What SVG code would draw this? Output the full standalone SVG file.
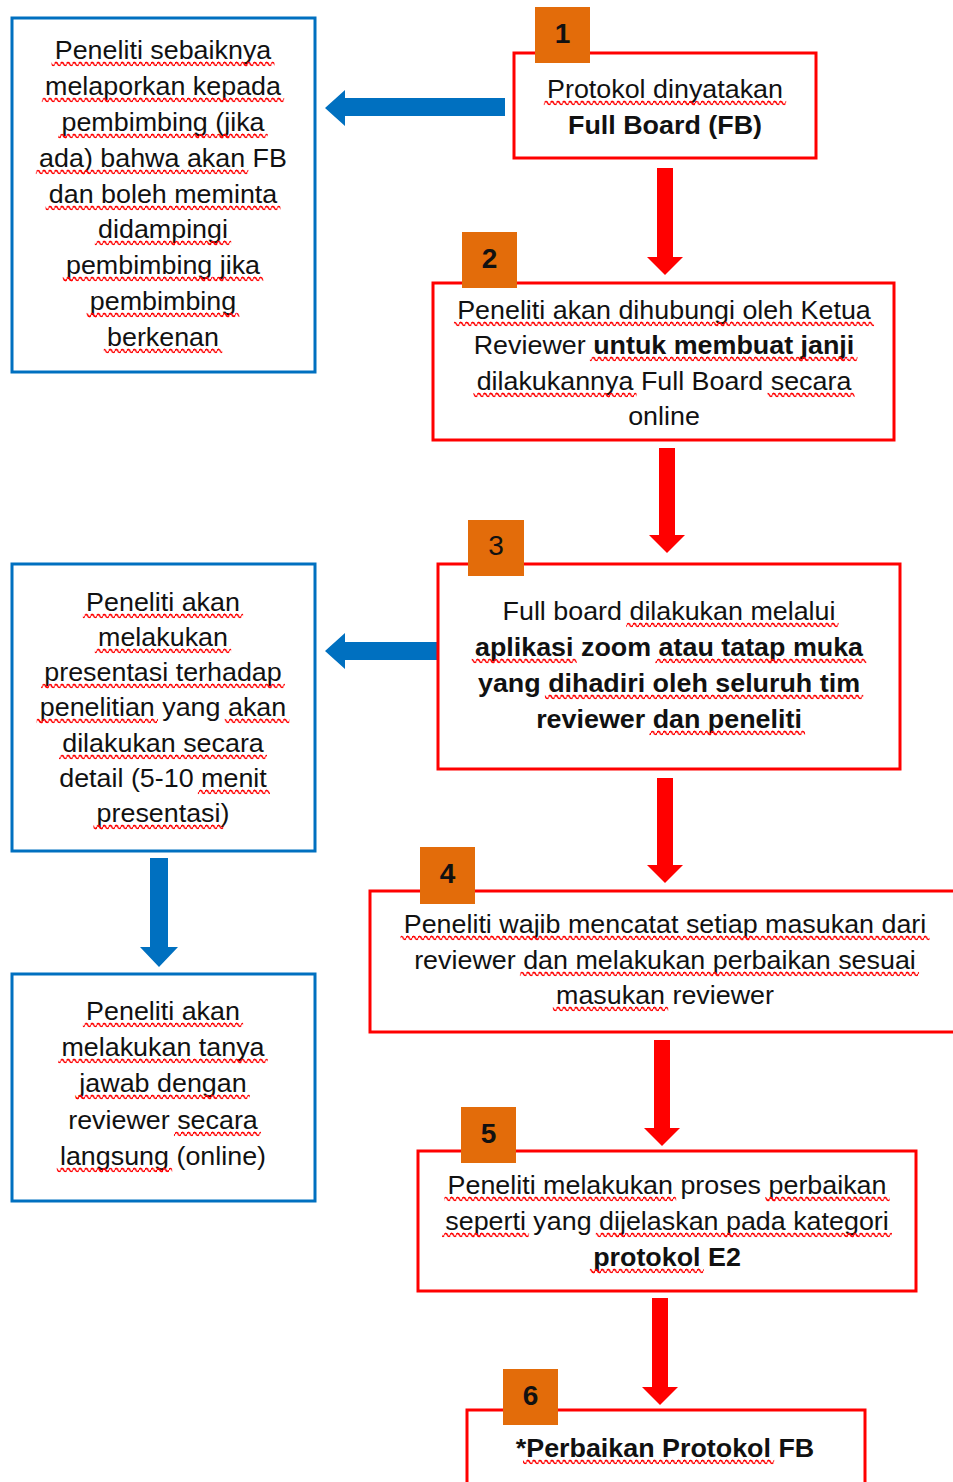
<svg xmlns="http://www.w3.org/2000/svg" xmlns:xlink="http://www.w3.org/1999/xlink" width="953" height="1482" viewBox="0 0 953 1482">
  <defs>
    <style>
      .bg { fill: #ffffff; }
      .boxR { fill: #ffffff; stroke: #ff0000; stroke-width: 3; }
      .boxB { fill: #ffffff; stroke: #0070c0; stroke-width: 3; }
      .badge { fill: #e36c0a; }
      .num { font-family: "Liberation Sans", Arial, sans-serif; font-size: 28px; font-weight: bold; fill: #111; text-anchor: middle; }
      .num.reg { font-weight: normal; }
      .t { font-family: "Liberation Sans", Arial, sans-serif; font-size: 25px; fill: var(--tf, #111); text-anchor: middle; }
      .b { font-weight: bold; }
      /* words flagged by the spell checker */
      .sp { fill: var(--sf, #111); stroke: var(--ss, none); stroke-width: var(--sw, 0); text-decoration-line: var(--dl, none); text-decoration-thickness: 7px; text-underline-offset: 1.5px; text-decoration-skip-ink: none; }
      .wv { --tf: none; --sf: url(#wave); --ss: url(#wave); --sw: 6px; --dl: underline; }
      .arrR { fill: #ff0000; }
      .arrB { fill: #0070c0; }
    </style>
    <!-- red squiggle, baseline at y=0 of each text line -->
    <pattern id="wave" patternUnits="userSpaceOnUse" x="0" y="0" width="5.6" height="40">
      <path d="M0 5 Q1.4 1.8 2.8 5 T5.6 5" fill="none" stroke="#ff0000" stroke-width="1.4"/>
    </pattern>
  </defs>
  <rect class="bg" x="0" y="0" width="953" height="1482"/>

  <!-- connectors -->
  <g id="connectors">
    <!-- step 1 -> left note -->
    <polygon class="arrB" points="505,98 345,98 345,90 325,108 345,126 345,116 505,116"/>
    <!-- step 3 -> presentation note -->
    <polygon class="arrB" points="438,642 345,642 345,633 325,651 345,669 345,660 438,660"/>
    <!-- presentation -> Q&A -->
    <polygon class="arrB" points="150,858 168,858 168,947 178,947 159,967 140,947 150,947"/>
    <!-- red flow arrows -->
    <polygon class="arrR" points="657,168 673,168 673,257 683,257 665,275 647,257 657,257"/>
    <polygon class="arrR" points="659,448 675,448 675,535 685,535 667,553 649,535 659,535"/>
    <polygon class="arrR" points="657,778 673,778 673,865 683,865 665,883 647,865 657,865"/>
    <polygon class="arrR" points="654,1040 670,1040 670,1128 680,1128 662,1146 644,1128 654,1128"/>
    <polygon class="arrR" points="652,1298 668,1298 668,1387 678,1387 660,1405 642,1387 652,1387"/>
  </g>

  <!-- left note: supervisor -->
  <g id="note-pembimbing">
    <rect class="boxB" x="12" y="18" width="303" height="354"/>
    <g id="tx-note-pembimbing">
      <text class="t" transform="translate(163 59) scale(1.075 1)"><tspan class="sp">Peneliti sebaiknya</tspan></text>
      <text class="t" transform="translate(163 95) scale(1.075 1)"><tspan class="sp">melaporkan kepada</tspan></text>
      <text class="t" transform="translate(163 131) scale(1.075 1)"><tspan class="sp">pembimbing (jika</tspan></text>
      <text class="t" transform="translate(163 167) scale(1.075 1)"><tspan class="sp">ada) bahwa akan</tspan> FB</text>
      <text class="t" transform="translate(163 203) scale(1.075 1)"><tspan class="sp">dan boleh meminta</tspan></text>
      <text class="t" transform="translate(163 238) scale(1.075 1)"><tspan class="sp">didampingi</tspan></text>
      <text class="t" transform="translate(163 274) scale(1.075 1)"><tspan class="sp">pembimbing jika</tspan></text>
      <text class="t" transform="translate(163 310) scale(1.075 1)"><tspan class="sp">pembimbing</tspan></text>
      <text class="t" transform="translate(163 346) scale(1.075 1)"><tspan class="sp">berkenan</tspan></text>
    </g>
  </g>

  <!-- step 1 -->
  <g id="step-1">
    <rect class="boxR" x="514" y="53" width="302" height="105"/>
    <rect class="badge" x="535" y="7" width="55" height="56"/>
    <text class="num" x="562.5" y="43">1</text>
    <g id="tx-step-1">
      <text class="t" transform="translate(665 98) scale(1.075 1)"><tspan class="sp">Protokol dinyatakan</tspan></text>
      <text class="t b" transform="translate(665 134) scale(1.075 1)">Full Board (FB)</text>
    </g>
  </g>

  <!-- step 2 -->
  <g id="step-2">
    <rect class="boxR" x="433" y="283" width="461" height="157"/>
    <rect class="badge" x="462" y="232" width="55" height="56"/>
    <text class="num" x="489.5" y="268">2</text>
    <g id="tx-step-2">
      <text class="t" transform="translate(664 319) scale(1.075 1)"><tspan class="sp">Peneliti akan dihubungi oleh Ketua</tspan></text>
      <text class="t" transform="translate(664 354) scale(1.075 1)">Reviewer <tspan class="sp b">untuk membuat janji</tspan></text>
      <text class="t" transform="translate(664 390) scale(1.075 1)"><tspan class="sp">dilakukannya</tspan> Full Board <tspan class="sp">secara</tspan></text>
      <text class="t" transform="translate(664 425) scale(1.075 1)">online</text>
    </g>
  </g>

  <!-- step 3 -->
  <g id="step-3">
    <rect class="boxR" x="438" y="564" width="462" height="205"/>
    <rect class="badge" x="468" y="520" width="56" height="56"/>
    <text class="num reg" x="496" y="555">3</text>
    <g id="tx-step-3">
      <text class="t" transform="translate(669 620) scale(1.075 1)">Full board <tspan class="sp">dilakukan melalui</tspan></text>
      <text class="t b" transform="translate(669 656) scale(1.075 1)"><tspan class="sp">aplikasi</tspan> zoom <tspan class="sp">atau tatap muka</tspan></text>
      <text class="t b" transform="translate(669 692) scale(1.075 1)">yang <tspan class="sp">dihadiri oleh seluruh tim</tspan></text>
      <text class="t b" transform="translate(669 728) scale(1.075 1)">reviewer <tspan class="sp">dan peneliti</tspan></text>
    </g>
  </g>

  <!-- left note: presentation -->
  <g id="note-presentasi">
    <rect class="boxB" x="12" y="564" width="303" height="287"/>
    <g id="tx-note-presentasi">
      <text class="t" transform="translate(163 611) scale(1.075 1)"><tspan class="sp">Peneliti akan</tspan></text>
      <text class="t" transform="translate(163 646) scale(1.075 1)"><tspan class="sp">melakukan</tspan></text>
      <text class="t" transform="translate(163 681) scale(1.075 1)"><tspan class="sp">presentasi terhadap</tspan></text>
      <text class="t" transform="translate(163 716) scale(1.075 1)"><tspan class="sp">penelitian</tspan> yang <tspan class="sp">akan</tspan></text>
      <text class="t" transform="translate(163 752) scale(1.075 1)"><tspan class="sp">dilakukan secara</tspan></text>
      <text class="t" transform="translate(163 787) scale(1.075 1)">detail (5-10 <tspan class="sp">menit</tspan></text>
      <text class="t" transform="translate(163 822) scale(1.075 1)"><tspan class="sp">presentasi</tspan>)</text>
    </g>
  </g>

  <!-- left note: question and answer -->
  <g id="note-tanya-jawab">
    <rect class="boxB" x="12" y="974" width="303" height="227"/>
    <g id="tx-note-tanya-jawab">
      <text class="t" transform="translate(163 1020) scale(1.075 1)"><tspan class="sp">Peneliti akan</tspan></text>
      <text class="t" transform="translate(163 1056) scale(1.075 1)"><tspan class="sp">melakukan tanya</tspan></text>
      <text class="t" transform="translate(163 1092) scale(1.075 1)"><tspan class="sp">jawab dengan</tspan></text>
      <text class="t" transform="translate(163 1129) scale(1.075 1)">reviewer <tspan class="sp">secara</tspan></text>
      <text class="t" transform="translate(163 1165) scale(1.075 1)"><tspan class="sp">langsung</tspan> (online)</text>
    </g>
  </g>

  <!-- step 4 -->
  <g id="step-4">
    <rect class="boxR" x="370" y="891" width="600" height="141"/>
    <rect class="badge" x="420" y="847" width="55" height="57"/>
    <text class="num" x="447.5" y="883">4</text>
    <g id="tx-step-4">
      <text class="t" transform="translate(665 933) scale(1.075 1)"><tspan class="sp">Peneliti wajib mencatat setiap masukan dari</tspan></text>
      <text class="t" transform="translate(665 969) scale(1.075 1)">reviewer <tspan class="sp">dan melakukan perbaikan sesuai</tspan></text>
      <text class="t" transform="translate(665 1004) scale(1.075 1)"><tspan class="sp">masukan</tspan> reviewer</text>
    </g>
  </g>

  <!-- step 5 -->
  <g id="step-5">
    <rect class="boxR" x="418" y="1151" width="498" height="140"/>
    <rect class="badge" x="461" y="1107" width="55" height="56"/>
    <text class="num" x="488.5" y="1143">5</text>
    <g id="tx-step-5">
      <text class="t" transform="translate(667 1194) scale(1.075 1)"><tspan class="sp">Peneliti melakukan</tspan> proses <tspan class="sp">perbaikan</tspan></text>
      <text class="t" transform="translate(667 1230) scale(1.075 1)"><tspan class="sp">seperti</tspan> yang <tspan class="sp">dijelaskan pada kategori</tspan></text>
      <text class="t b" transform="translate(667 1266) scale(1.075 1)"><tspan class="sp">protokol</tspan> E2</text>
    </g>
  </g>

  <!-- step 6 -->
  <g id="step-6">
    <rect class="boxR" x="467" y="1410" width="398" height="100"/>
    <rect class="badge" x="503" y="1369" width="55" height="56"/>
    <text class="num" x="530.5" y="1405">6</text>
    <g id="tx-step-6">
      <text class="t b" transform="translate(665 1457) scale(1.075 1)">*<tspan class="sp">Perbaikan Protokol</tspan> FB</text>
    </g>
  </g>

  <!-- spell-check squiggles drawn over the flagged words -->
  <g id="spellcheck">
    <use class="wv" href="#tx-note-pembimbing" xlink:href="#tx-note-pembimbing"/>
    <use class="wv" href="#tx-step-1" xlink:href="#tx-step-1"/>
    <use class="wv" href="#tx-step-2" xlink:href="#tx-step-2"/>
    <use class="wv" href="#tx-step-3" xlink:href="#tx-step-3"/>
    <use class="wv" href="#tx-note-presentasi" xlink:href="#tx-note-presentasi"/>
    <use class="wv" href="#tx-note-tanya-jawab" xlink:href="#tx-note-tanya-jawab"/>
    <use class="wv" href="#tx-step-4" xlink:href="#tx-step-4"/>
    <use class="wv" href="#tx-step-5" xlink:href="#tx-step-5"/>
    <use class="wv" href="#tx-step-6" xlink:href="#tx-step-6"/>
  </g>
</svg>
